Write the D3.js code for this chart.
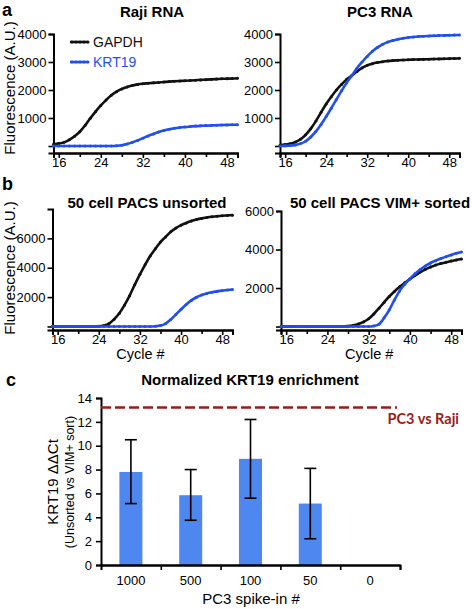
<!DOCTYPE html>
<html><head><meta charset="utf-8">
<script src="https://cdn.jsdelivr.net/npm/d3@7"></script>
<style>body{margin:0;background:#fff}svg{display:block;font-family:"Liberation Sans",Arial,sans-serif}</style>
</head><body><svg id="c" width="472" height="609"></svg>
<script>
const cycles = d3.range(15, 51);
// Panel a: Raji RNA
const rajiGAPDH = [60,90,130,220,350,510,730,990,1230,1450,1640,1810,1940,2040,2110,2160,2200,2225,2240,2255,2270,2285,2300,2310,2320,2330,2340,2350,2360,2370,2380,2390,2400,2405,2410,2420];
const rajiKRT19 = [0,0,0,0,0,0,0,0,0,0,0,0,10,30,70,130,200,280,360,430,500,555,600,635,660,680,695,710,720,728,735,742,748,753,758,762];
// Panel a: PC3 RNA
const pc3GAPDH = [30,50,80,140,240,400,620,890,1200,1500,1760,2000,2200,2380,2520,2660,2790,2880,2940,2980,3010,3035,3050,3060,3070,3078,3085,3090,3095,3100,3105,3110,3115,3120,3125,3130];
const pc3KRT19 = [0,5,15,40,85,170,320,520,770,1050,1350,1660,1970,2260,2510,2780,3000,3200,3380,3520,3630,3710,3770,3815,3850,3875,3895,3910,3920,3930,3938,3945,3950,3955,3960,3965];
// Panel b: 50 cell PACS unsorted
const unsGAPDH = [0,0,0,0,0,0,0,0,0,10,60,200,500,900,1450,2100,2850,3550,4200,4800,5300,5750,6100,6450,6700,6900,7050,7180,7280,7360,7420,7470,7510,7540,7560,7580];
const unsKRT19 = [0,0,0,0,0,0,0,0,0,0,0,0,0,0,0,0,0,0,0,0,20,60,200,480,820,1170,1500,1780,1990,2140,2250,2330,2390,2440,2480,2520];
// Panel b: 50 cell PACS VIM+ sorted
const srtGAPDH = [0,0,0,0,0,0,0,0,0,0,0,0,0,20,60,130,240,400,650,950,1260,1560,1820,2060,2270,2470,2660,2830,2970,3090,3190,3270,3340,3400,3460,3510];
const srtKRT19 = [0,0,0,0,0,0,0,0,0,0,0,0,0,0,0,0,0,0,30,120,450,870,1380,1850,2200,2480,2740,2960,3150,3300,3420,3530,3630,3720,3800,3870];
const cycleTicks = [16, 24, 32, 40, 48];
const cycleMinor = [20, 28, 36, 44];
// Panel c
const spikeIn = ["1000", "500", "100", "50", "0"];
const ddCt = [7.8, 5.85, 8.9, 5.15, null];
const errUp = [10.5, 8.0, 12.2, 8.1, null];
const errLo = [5.15, 3.75, 5.6, 2.2, null];
const refLine = 13.2;
const cTicks = [0, 2, 4, 6, 8, 10, 12, 14];

const svg = d3.select("#c");
const BLACK = "#111", BLUE = "#1f4ff2";

function qpcr(o) {
  const g = svg.append("g");
  const x = d3.scaleLinear().domain([15, 50]).range([o.x0, o.x1]);
  const y = d3.scaleLinear().domain(o.yd).range([o.y0, o.y1]);
  const yAxis = d3.axisLeft(y).tickValues(o.yt).tickFormat(d => d === 0 ? "" : d).tickSize(5).tickPadding(2);
  g.append("g").attr("transform", `translate(${o.x0},0)`).call(yAxis);
  const xAxis = d3.axisBottom(x).tickValues(cycleTicks).tickSize(5).tickPadding(0);
  g.append("g").attr("transform", `translate(0,${o.y0})`).call(xAxis);
  g.append("g").attr("transform", `translate(0,${o.y0})`)
    .call(d3.axisBottom(x).tickValues(cycleMinor).tickSize(4).tickFormat(""));
  g.selectAll(".domain").attr("stroke", "#000").attr("stroke-width", 2);
  g.selectAll(".tick line").attr("stroke", "#000").attr("stroke-width", 1.6);
  g.selectAll(".tick text").attr("font-size", 13).attr("fill", "#000");
  const line = d3.line().x((d, i) => x(cycles[i])).y(d => y(d)).curve(d3.curveMonotoneX);
  [[o.s1, BLACK], [o.s2, BLUE]].forEach(([s, col]) => {
    g.append("path").datum(s).attr("d", line).attr("fill", "none").attr("stroke", col).attr("stroke-width", 2.6);
    g.selectAll(null).data(s).join("circle").attr("cx", (d, i) => x(cycles[i])).attr("cy", d => y(d)).attr("r", 1.5).attr("fill", col);
  });
  g.append("text").attr("x", o.tx).attr("y", o.ty).attr("text-anchor", "middle").attr("font-weight", "bold").attr("font-size", 15).text(o.title);
  if (o.xlabel) g.append("text").attr("x", (o.x0 + o.x1) / 2 - 2).attr("y", o.y0 + 29).attr("text-anchor", "middle").attr("font-size", 14.5).text("Cycle #");
  return {x, y, g};
}

qpcr({x0: 53.5, x1: 237.5, y0: 153, y1: 34, yd: [-250, 4000], yt: [0, 1000, 2000, 3000, 4000], s1: rajiGAPDH, s2: rajiKRT19, title: "Raji RNA", tx: 152, ty: 17});
qpcr({x0: 280, x1: 459.5, y0: 153, y1: 34, yd: [-250, 4000], yt: [0, 1000, 2000, 3000, 4000], s1: pc3GAPDH, s2: pc3KRT19, title: "PC3 RNA", tx: 380, ty: 17});
qpcr({x0: 52.5, x1: 232.5, y0: 330, y1: 209, yd: [-240, 8000], yt: [0, 2000, 4000, 6000], s1: unsGAPDH, s2: unsKRT19, title: "50 cell PACS unsorted", tx: 147, ty: 208, xlabel: true});
qpcr({x0: 281, x1: 461.5, y0: 330, y1: 211, yd: [-180, 6000], yt: [0, 2000, 4000, 6000], s1: srtGAPDH, s2: srtKRT19, title: "50 cell PACS VIM+ sorted", tx: 380, ty: 208, xlabel: true});

// legend
[["GAPDH", BLACK, 42], ["KRT19", BLUE, 62]].forEach(([t, col, yy]) => {
  svg.append("line").attr("x1", 70).attr("x2", 88).attr("y1", yy).attr("y2", yy).attr("stroke", col).attr("stroke-width", 2.6);
  [72, 76, 80, 84, 88].forEach(cx => svg.append("circle").attr("cx", cx).attr("cy", yy).attr("r", 1.5).attr("fill", col));
  svg.append("text").attr("x", 93).attr("y", yy + 5).attr("font-size", 14).attr("fill", col).text(t);
});

// y labels
[[88], [268]].forEach(([cy]) => {
  svg.append("text").attr("transform", `translate(15,${cy}) rotate(-90)`).attr("text-anchor", "middle").attr("font-size", 15).text("Fluorescence (A.U.)");
});
// panel letters
[["a", 2, 16], ["b", 2, 190], ["c", 6, 386]].forEach(([t, px, py]) => {
  svg.append("text").attr("x", px).attr("y", py).attr("font-weight", "bold").attr("font-size", 18).text(t);
});

// Panel c
const xcb = d3.scaleBand().domain(spikeIn).range([101, 400]);
const yc = d3.scaleLinear().domain([0, 14]).range([565, 398]);
const gc = svg.append("g");
gc.append("text").attr("x", 250).attr("y", 385).attr("text-anchor", "middle").attr("font-weight", "bold").attr("font-size", 15).text("Normalized KRT19 enrichment");
const idx = spikeIn.map((d, i) => i).filter(i => ddCt[i] != null);
gc.selectAll(".bar").data(idx).join("rect").attr("class", "bar")
  .attr("x", i => xcb(spikeIn[i]) + xcb.bandwidth() / 2 - 11.5).attr("width", 23)
  .attr("y", i => yc(ddCt[i])).attr("height", i => yc(0) - yc(ddCt[i])).attr("fill", "#4f87f1");
idx.forEach(i => {
  const cx = xcb(spikeIn[i]) + xcb.bandwidth() / 2;
  gc.append("line").attr("x1", cx).attr("x2", cx).attr("y1", yc(errUp[i])).attr("y2", yc(errLo[i])).attr("stroke", "#000").attr("stroke-width", 1.6);
  [errUp[i], errLo[i]].forEach(v => gc.append("line").attr("x1", cx - 6).attr("x2", cx + 6).attr("y1", yc(v)).attr("y2", yc(v)).attr("stroke", "#000").attr("stroke-width", 1.6));
});
gc.append("g").attr("transform", "translate(101,0)").call(d3.axisLeft(yc).tickValues(cTicks).tickSize(5).tickPadding(4));
gc.append("g").attr("transform", "translate(0,565)").call(d3.axisBottom(xcb).tickSize(0).tickPadding(11));
gc.append("g").attr("transform", "translate(0,565)")
  .call(d3.axisBottom(d3.scaleLinear().domain([0, 5]).range([101, 400])).tickValues([1, 2, 3, 4, 5]).tickSize(5).tickFormat(""));
gc.selectAll(".domain").attr("stroke", "#000").attr("stroke-width", 2);
gc.selectAll(".tick line").attr("stroke", "#000").attr("stroke-width", 1.6);
gc.selectAll(".tick text").attr("font-size", 13).attr("fill", "#000");
gc.append("line").attr("x1", 101).attr("x2", 397).attr("y1", yc(refLine)).attr("y2", yc(refLine))
  .attr("stroke", "#9b1b1b").attr("stroke-width", 2.4).attr("stroke-dasharray", "10,4");
gc.append("text").attr("x", 459).attr("y", 424).attr("text-anchor", "end").attr("font-weight", "bold").attr("font-size", 14.5)
  .attr("font-family", "Lato, sans-serif").attr("fill", "#9b1b1b").text("PC3 vs Raji");
gc.append("text").attr("transform", "translate(58,482) rotate(-90)").attr("text-anchor", "middle").attr("font-size", 15).text("KRT19 ΔΔCt");
gc.append("text").attr("transform", "translate(74,482) rotate(-90)").attr("text-anchor", "middle").attr("font-size", 12.5).text("(Unsorted vs VIM+ sort)");
gc.append("text").attr("x", 251).attr("y", 604).attr("text-anchor", "middle").attr("font-size", 15).text("PC3 spike-in #");
</script></body></html>
